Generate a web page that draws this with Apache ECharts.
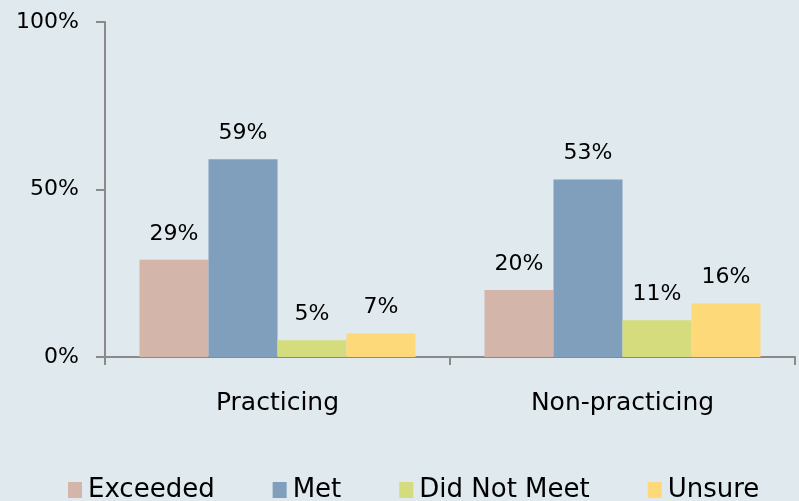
<!DOCTYPE html>
<html>
<head>
<meta charset="utf-8">
<script src="https://cdn.jsdelivr.net/npm/echarts@6/dist/echarts.min.js"></script>
<style>
  html, body { margin: 0; padding: 0; background: #dfe9ee; }
  #chart { width: 799px; height: 501px; }
</style>
</head>
<body>
<div id="chart"></div>
<script>
const categories = ['Practicing', 'Non-practicing']
const seriesNames = ['Exceeded', 'Met', 'Did Not Meet', 'Unsure']
const exceeded = [29, 20]
const met = [59, 53]
const didNotMeet = [5, 11]
const unsure = [7, 16]
const yTicks = [0, 50, 100]

const colors = ['#d4b5a9', '#7f9fbd', '#d4dc7d', '#fdd97a']
const font = 'DejaVu Sans'

const chart = echarts.init(document.getElementById('chart'))

const makeSeries = (name, values, i) => ({
  name: name,
  type: 'bar',
  data: values,
  barWidth: 69,
  barGap: '0%',
  itemStyle: { color: colors[i] },
  label: {
    show: true,
    position: 'top',
    distance: 15,
    formatter: '{c}%',
    color: '#000',
    fontFamily: font,
    fontSize: 22
  }
})

chart.setOption({
  backgroundColor: '#dfe9ee',
  animation: false,
  color: colors,
  grid: { left: 105, right: 4, top: 22, bottom: 144 },
  legend: {
    bottom: -2,
    left: 68,
    padding: 0,
    itemWidth: 14,
    itemHeight: 16,
    itemGap: 58,
    icon: 'rect',
    textStyle: { fontFamily: font, fontSize: 26, color: '#000', padding: [0, 0, 0, 1] },
    data: seriesNames
  },
  xAxis: {
    type: 'category',
    data: categories,
    axisLine: { lineStyle: { color: '#8a8a8a', width: 2 } },
    axisTick: { show: true, length: 8, lineStyle: { color: '#8a8a8a', width: 2 } },
    axisLabel: { margin: 34, color: '#000', fontFamily: font, fontSize: 25 }
  },
  yAxis: {
    type: 'value',
    min: yTicks[0],
    max: yTicks[yTicks.length - 1],
    interval: yTicks[1] - yTicks[0],
    splitLine: { show: false },
    axisLine: { show: true, lineStyle: { color: '#8a8a8a', width: 2 } },
    axisTick: { show: true, length: 9, lineStyle: { color: '#8a8a8a', width: 2 } },
    axisLabel: { margin: 26, color: '#000', fontFamily: font, fontSize: 22, formatter: '{value}%' }
  },
  series: [
    makeSeries(seriesNames[0], exceeded, 0),
    makeSeries(seriesNames[1], met, 1),
    makeSeries(seriesNames[2], didNotMeet, 2),
    makeSeries(seriesNames[3], unsure, 3)
  ]
})
</script>
</body>
</html>
